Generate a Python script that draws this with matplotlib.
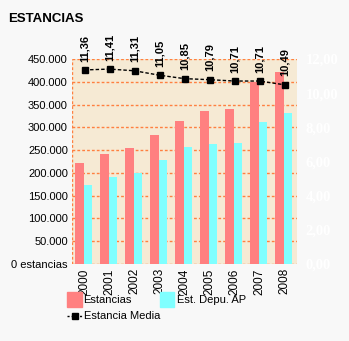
import numpy as np
import matplotlib
matplotlib.use('Agg')
import matplotlib.pyplot as plt
from matplotlib.patches import Rectangle
from matplotlib.lines import Line2D

plt.rcParams['font.family'] = ['Liberation Sans', 'DejaVu Sans']

# datos
years = ['2000', '2001', '2002', '2003', '2004', '2005', '2006', '2007', '2008']
estancias = [222400, 241500, 254600, 283000, 313900, 335800, 340200, 399500, 421400]
est_depu = [173400, 191000, 199700, 228300, 256800, 263400, 265600, 311700, 331500]
est_media = [11.36, 11.41, 11.31, 11.05, 10.85, 10.79, 10.71, 10.71, 10.49]
left_ticks = [0, 50000, 100000, 150000, 200000, 250000, 300000, 350000, 400000, 450000]
left_labels = ['0 estancias', '50.000', '100.000', '150.000', '200.000', '250.000',
               '300.000', '350.000', '400.000', '450.000']
right_ticks = [0, 2, 4, 6, 8, 10, 12]
right_labels = ['0,00', '2,00', '4,00', '6,00', '8,00', '10,00', '12,00']

W, H = 349, 341
fig = plt.figure(figsize=(W / 100, H / 100), dpi=100)
fig.patch.set_facecolor('#f8f8f8')

ax = fig.add_axes([72 / W, 1 - 264 / H, 225 / W, 205 / H])
ax.set_facecolor('#f6ead4')
x = np.arange(len(years))

grid_col = '#ff8040'
for t in left_ticks:
    ax.axhline(t, color=grid_col, lw=1, ls=(0, (2, 1.5)), zorder=1)
ax.axvline(-0.5, color=grid_col, lw=1, ls=(0, (2, 1.5)), zorder=1)

ax.bar(x - 0.38, estancias, width=0.36, align='edge', color='#ff8080', zorder=2)
ax.bar(x - 0.02, est_depu, width=0.33, align='edge', color='#80ffff', zorder=2)

ax.set_xlim(-0.5, len(years) - 0.5)
ax.set_ylim(0, 450000)
ax.set_yticks(left_ticks)
ax.set_yticklabels(left_labels, fontsize=8)
ax.set_xticks(x)
ax.set_xticklabels(years, rotation=90, fontsize=8.5)
ax.tick_params(length=0, pad=3)
for s in ax.spines.values():
    s.set_visible(False)

ax2 = ax.twinx()
ax2.set_ylim(0, 12)
ax2.set_yticks(right_ticks)
ax2.set_yticklabels(right_labels, color='white', fontsize=10.5, fontweight='bold',
                    family='Liberation Serif')
ax2.tick_params(length=0, pad=6)
for s in ax2.spines.values():
    s.set_visible(False)
ax2.plot(x, est_media, color='black', lw=1, ls=(0, (2.5, 1.5)), marker='s',
         markersize=5, zorder=3)
for xi, v in zip(x, est_media):
    ax2.annotate(('%.2f' % v).replace('.', ','), (xi, v), xytext=(0, 6),
                 textcoords='offset points', rotation=90, ha='center', va='bottom',
                 fontsize=8, fontweight='bold')

fig.text(8 / W, 1 - 19 / H, 'ESTANCIAS', fontsize=9.5, fontweight='bold', va='center')

# leyenda
fig.add_artist(Rectangle((67 / W, 1 - 307 / H), 15 / W, 15 / H, color='#ff8080',
                         transform=fig.transFigure))
fig.text(83 / W, 1 - 300 / H, 'Estancias', fontsize=8, va='center')
fig.add_artist(Rectangle((160 / W, 1 - 307 / H), 14 / W, 15 / H, color='#80ffff',
                         transform=fig.transFigure))
fig.text(177 / W, 1 - 300 / H, 'Est. Depu. AP', fontsize=8, va='center')
fig.add_artist(Line2D([67 / W, 83 / W], [1 - 316 / H, 1 - 316 / H], color='black',
                      lw=1, ls=(0, (1.5, 1.5)), transform=fig.transFigure))
fig.add_artist(Line2D([75 / W], [1 - 316 / H], color='black', marker='s',
                      markersize=5, ls='none', transform=fig.transFigure))
fig.text(84 / W, 1 - 316 / H, 'Estancia Media', fontsize=8, va='center')

fig.savefig('out.png', dpi=100, facecolor=fig.get_facecolor())
